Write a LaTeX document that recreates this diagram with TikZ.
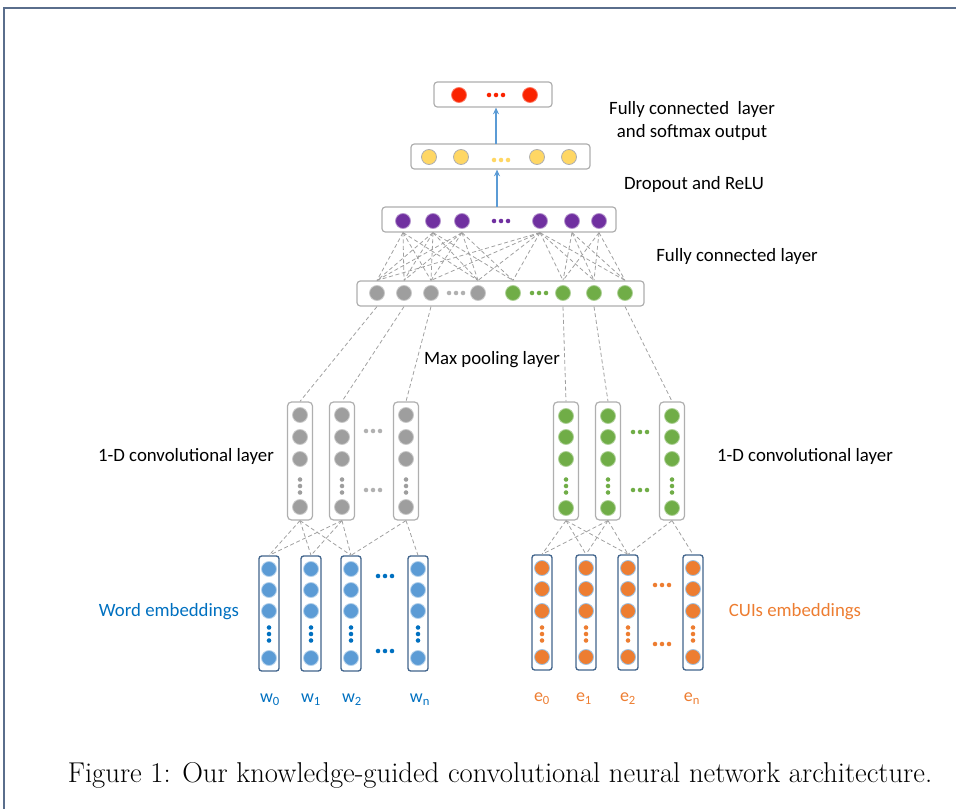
\documentclass[tikz,border=0pt]{standalone}
\usepackage{fontspec}
\newfontfamily\calfont{Carlito}
\usetikzlibrary{arrows.meta}
\definecolor{boxgray}{RGB}{175,175,175}
\definecolor{conngray}{RGB}{160,160,160}
\definecolor{nred}{RGB}{250,35,0}
\definecolor{nyellow}{RGB}{255,215,100}
\definecolor{npurple}{RGB}{112,48,160}
\definecolor{ngray}{RGB}{158,158,158}
\definecolor{ngreen}{RGB}{112,173,71}
\definecolor{nblue}{RGB}{91,155,213}
\definecolor{norange}{RGB}{237,125,49}
\definecolor{embblue}{RGB}{65,100,140}
\definecolor{arrblue}{RGB}{91,155,213}
\definecolor{wordblue}{RGB}{0,112,192}
\definecolor{framecol}{RGB}{90,110,140}
\newcommand\mydotsh[3]{\foreach \d in {-7,0,7} \fill[#1] ({#2+\d},#3) circle (1.7pt);}
\newcommand\mydotsv[3]{\foreach \d in {-6.5,0,6.5} \fill[#1] (#2,{#3+\d}) circle (1.7pt);}
\begin{document}
\begin{tikzpicture}[x=0.75pt,y=-0.75pt,
  lay/.style={draw=boxgray, rounded corners=2.5pt, fill=white, line width=0.9pt, inner sep=0, minimum height=18.75pt},
  colbox/.style={draw=boxgray, rounded corners=3pt, fill=white, line width=0.9pt, inner sep=0, minimum width=18.75pt, minimum height=88.5pt},
  embbox/.style={draw=embblue, rounded corners=2pt, fill=white, line width=1pt, inner sep=0, minimum width=15pt, minimum height=86.25pt},
  neu/.style={circle, inner sep=0, minimum size=11.25pt, line width=0.6pt},
  redn/.style={neu, fill=nred, draw=nred!60!white},
  yeln/.style={neu, fill=nyellow, draw=boxgray},
  purn/.style={neu, fill=npurple, draw=npurple!50!white},
  grayn/.style={neu, fill=ngray, draw=ngray!55!white},
  grnn/.style={neu, fill=ngreen, draw=ngreen!55!white},
  blun/.style={neu, fill=nblue, draw=nblue!45!white},
  orgn/.style={neu, fill=norange, draw=nblue!60!white},
  conn/.style={draw=conngray, line width=0.6pt, dash pattern=on 3pt off 2pt},
  arr/.style={draw=arrblue, line width=0.8pt, -{Stealth[length=5pt,width=4.5pt]}},
  lbl/.style={font=\calfont\fontsize{14.1}{17}\selectfont, align=center, inner sep=0},
  sublbl/.style={font=\calfont\fontsize{13.5}{15}\selectfont, inner sep=0}
]
\useasboundingbox (0,0) rectangle (956,809);
\draw[framecol, line width=1.1pt] (4,809) -- (4,8) -- (956,8);

% ---------- top layers ----------
\node[lay, minimum width=88.5pt] (rbox) at (493,94.5) {};
\node[redn] (o1) at (459,95) {};
\node[redn] (o2) at (530,95) {};
\mydotsh{nred}{496}{95}

\node[lay, minimum width=134.25pt] (ybox) at (500.5,156.5) {};
\foreach \n/\x in {1/429,2/461,3/537,4/569} \node[yeln] (y\n) at (\x,157) {};
\mydotsh{nyellow}{501}{160}

\node[lay, minimum width=175.5pt] (fcbox) at (499,219.5) {};
\foreach \n/\x in {1/403,2/433,3/462,4/540,5/572,6/599} \node[purn] (p\n) at (\x,221) {};
\mydotsh{npurple}{501}{221}

\node[lay, minimum width=215.25pt] (poolbox) at (500.5,293.5) {};
\foreach \n/\x in {1/377,2/404,3/431,4/478} \node[grayn] (g\n) at (\x,293) {};
\foreach \n/\x in {1/513,2/563,3/594,4/625} \node[grnn] (q\n) at (\x,293) {};
\mydotsh{ngray!80}{456}{293}
\mydotsh{ngreen}{539}{293}

\coordinate (a1) at (496,144);
\coordinate (a2) at (497,207);
\draw[arr] (a1) -- (a1 |- rbox.south);
\draw[arr] (a2) -- (a2 |- ybox.south);

% fully connected links
\foreach \a/\b in {p1/g1,p1/g2,p1/g3,p1/g4,p2/g1,p2/g2,p2/g3,p2/g4,p3/g1,p3/g2,p3/g3,p3/g4,
  p2/q1,p3/q1,p4/g1,p4/g3,p4/g4,p4/q1,p4/q2,p4/q3,p4/q4,p5/q2,p5/q3,p5/q4,p6/q2,p6/q3,p6/q4}
  \draw[conn] (\a |- fcbox.south) -- (\b |- poolbox.north);

% ---------- convolutional layers ----------
\foreach \n/\x in {1/300,2/342,3/406} {
  \node[colbox] (lc\n) at (\x,461) {};
  \foreach \m/\y in {1/415,2/437,3/459,4/507} \node[grayn] (lc\n n\m) at (\x,\y) {};
  \mydotsv{ngray}{\x}{486}
}
\mydotsh{ngray!80}{373}{431}
\mydotsh{ngray!80}{373}{490}

\foreach \n/\x in {1/566,2/608,3/672} {
  \node[colbox] (rc\n) at (\x,461) {};
  \foreach \m/\y in {1/416,2/437,3/459,4/508} \node[grnn] (rc\n n\m) at (\x,\y) {};
  \mydotsv{ngreen}{\x}{486}
}
\mydotsh{ngreen}{640}{432}
\mydotsh{ngreen}{640}{490}

% pooling links
\draw[conn] (g1 |- poolbox.south) -- (lc1.north);
\draw[conn] (g2 |- poolbox.south) -- (lc2.north);
\draw[conn] (g3 |- poolbox.south) -- (lc3.north);
\draw[conn] (q2 |- poolbox.south) -- (rc1.north);
\draw[conn] (q3 |- poolbox.south) -- (rc2.north);
\draw[conn] (q4 |- poolbox.south) -- (rc3.north);

% ---------- embeddings ----------
\foreach \n/\x in {1/269,2/311,3/351,4/418} {
  \node[embbox] (le\n) at (\x,613.5) {};
  \foreach \m/\y in {1/569,2/590,3/611,4/658} \node[blun] (le\n n\m) at (\x,\y) {};
  \mydotsv{wordblue}{\x}{634}
}
\mydotsh{wordblue}{385}{576}
\mydotsh{wordblue}{385}{651}

\foreach \n/\x in {1/542,2/586,3/628,4/693} {
  \node[embbox] (re\n) at (\x,612.5) {};
  \foreach \m/\y in {1/568,2/589,3/611,4/657} \node[orgn] (re\n n\m) at (\x,\y) {};
  \mydotsv{norange}{\x}{634}
}
\mydotsh{norange}{662}{585}
\mydotsh{norange}{662}{644}

% conv-embedding links
\foreach \a/\b in {lc1/le1,lc1/le2,lc1/le3,lc2/le1,lc2/le2,lc2/le3,lc3/le3,lc3/le4,
  rc1/re1,rc1/re2,rc1/re3,rc2/re1,rc2/re2,rc2/re3,rc3/re3,rc3/re4}
  \draw[conn] (\a.south) -- (\b.north);

% ---------- labels ----------
\node[lbl] (t1) at (692,121) {Fully connected\ \ layer\\and softmax output};
\node[lbl] (t2) at (694,184) {Dropout and ReLU};
\node[lbl] (t3) at (737,256) {Fully connected layer};
\node[lbl] (t4) at (492,360) {Max pooling layer};
\node[lbl] (t5) at (186,456) {1-D convolutional layer};
\node[lbl] (t6) at (805,456) {1-D convolutional layer};
\node[lbl, text=wordblue] (t7) at (169,612) {Word embeddings};
\node[lbl, text=norange] (t8) at (795,612) {CUIs embeddings};

\foreach \n/\x/\s in {1/270/0,2/311/1,3/352/2,4/420/n}
  \node[sublbl, text=wordblue] (wl\n) at (\x,700) {w\textsubscript{\s}};
\foreach \n/\x/\s in {1/542/0,2/584/1,3/628/2,4/692/n}
  \node[sublbl, text=norange] (el\n) at (\x,699) {e\textsubscript{\s}};

\node[font=\fontsize{21.5}{25}\selectfont, inner sep=0] (cap) at (500,775)
  {Figure 1: Our knowledge-guided convolutional neural network architecture.};
\end{tikzpicture}
\end{document}
